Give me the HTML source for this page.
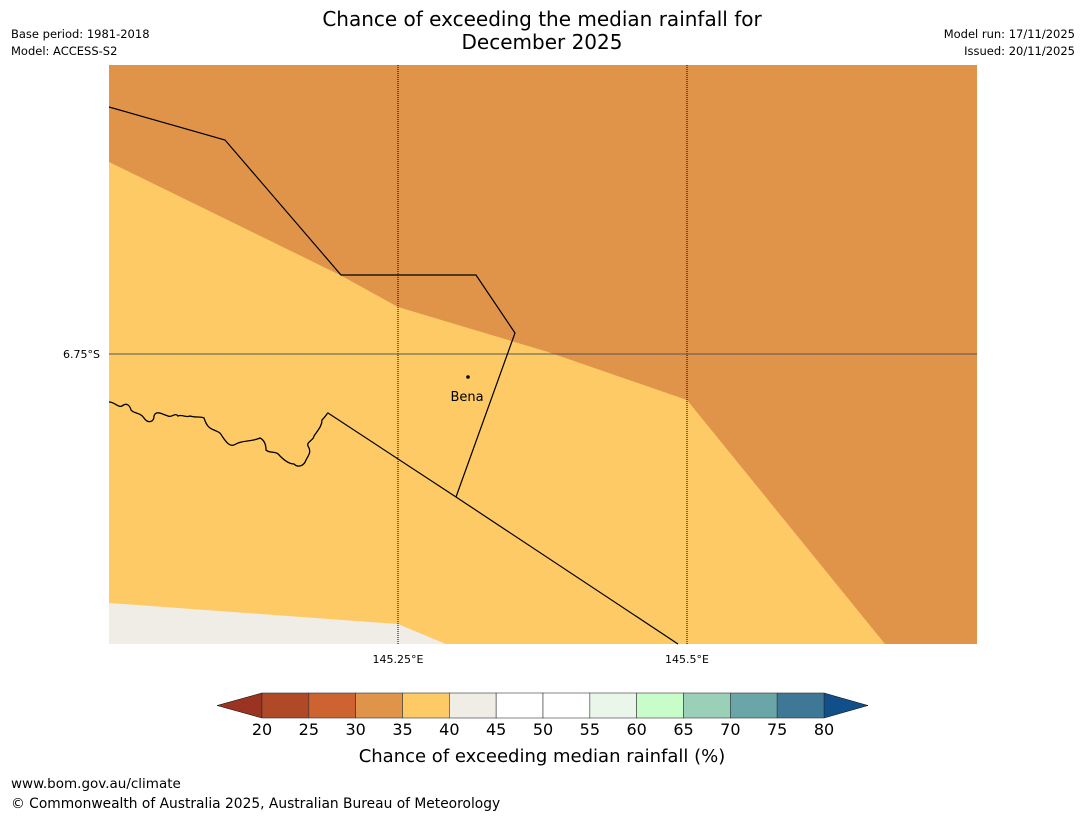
<!DOCTYPE html>
<html><head><meta charset="utf-8"><style>
body{margin:0;background:#fff;font-family:"Liberation Sans","DejaVu Sans",sans-serif}
svg text{font-family:"DejaVu Sans","Liberation Sans",sans-serif}
</style></head><body>
<svg width="1085" height="816" viewBox="0 0 1085 816" xmlns="http://www.w3.org/2000/svg">
<text x="542" y="26" font-size="20" text-anchor="middle">Chance of exceeding the median rainfall for</text>
<text x="542" y="49" font-size="20" text-anchor="middle">December 2025</text>
<text x="11" y="38" font-size="11.5">Base period: 1981-2018</text>
<text x="11" y="55" font-size="11.5">Model: ACCESS-S2</text>
<text x="1075" y="38" font-size="11.5" text-anchor="end">Model run: 17/11/2025</text>
<text x="1075" y="55" font-size="11.5" text-anchor="end">Issued: 20/11/2025</text>
<g>
<rect x="109" y="65" width="868" height="579" fill="#e0944a"/>
<polygon points="109,162 340,275 398,307 548,352 687,400 885,644 109,644" fill="#fdca66"/>
<polygon points="109,603 398,624 446,644 109,644" fill="#f0ece6"/>
<line x1="398" y1="65" x2="398" y2="644" stroke="#000" stroke-width="1" stroke-dasharray="1,1"/>
<line x1="687" y1="65" x2="687" y2="644" stroke="#000" stroke-width="1" stroke-dasharray="1,1"/>
<line x1="109" y1="354" x2="977" y2="354" stroke="#555" stroke-width="1"/>
<polyline points="109,107 225,140 341,275 476,275 515,333 456,497" fill="none" stroke="#000" stroke-width="1.2"/>
<polyline points="328,413 456,497 678,644" fill="none" stroke="#000" stroke-width="1.2"/>
<path d="M109,402 C115,402 118,408 122,406 C127,402 130,406 131,410 C134,414 140,412 144,418 C148,424 154,422 154,416 C156,410 162,414 168,416 C172,418 175,412 178,416 C182,414 186,418 190,416 C196,418 200,416 204,418 C206,424 208,428 214,430 C218,432 220,432 222,436 C226,442 230,448 236,444 C242,440 252,442 260,438 C264,440 266,444 266,450 C270,454 276,450 280,456 C286,462 290,464 294,464 C298,468 304,466 306,460 C308,456 312,452 308,446 C306,442 314,440 314,436 C318,430 322,426 322,420 C326,416 328,412 328,413" fill="none" stroke="#000" stroke-width="1.3"/>
<circle cx="468" cy="377" r="1.8" fill="#000"/>
<text x="467" y="401" font-size="13" text-anchor="middle">Bena</text>
</g>
<text x="100" y="358" font-size="11" text-anchor="end">6.75°S</text>
<text x="398" y="663" font-size="11" text-anchor="middle">145.25°E</text>
<text x="687" y="663" font-size="11" text-anchor="middle">145.5°E</text>
<g id="cbar"></g>
<text x="542" y="762" font-size="18" text-anchor="middle">Chance of exceeding median rainfall (%)</text>
<text x="11" y="788" font-size="13.5">www.bom.gov.au/climate</text>
<text x="11" y="808" font-size="13.8">© Commonwealth of Australia 2025, Australian Bureau of Meteorology</text>
</svg>
<script>
const ticks=[20,25,30,35,40,45,50,55,60,65,70,75,80];
const colors=["#b04a26","#cc6331","#e0944a","#fdca66","#f0ece6","#ffffff","#ffffff","#eaf6ea","#c8fcc8","#9bd0b8","#6aa5a8","#3f7896"];
const lowColor="#9a3322", highColor="#114f8a";
const NS="http://www.w3.org/2000/svg";
const g=document.getElementById('cbar');
const x0=262,x1=824,y0=693,y1=718;
const sx=v=>x0+(v-ticks[0])/(ticks[ticks.length-1]-ticks[0])*(x1-x0);
function mk(t,a){const e=document.createElementNS(NS,t);for(const k in a)e.setAttribute(k,a[k]);g.appendChild(e);return e;}
let tri=mk('polygon',{points:`${x0},${y0} ${x0},${y1} 217,${(y0+y1)/2}`,fill:lowColor,stroke:'#000','stroke-width':0.5});


tri=mk('polygon',{points:`${x1},${y0} ${x1},${y1} 868,${(y0+y1)/2}`,fill:highColor,stroke:'#000','stroke-width':0.5});


colors.forEach((c,i)=>{
 const r=mk('rect',{x:sx(ticks[i]),y:y0,width:sx(ticks[i+1])-sx(ticks[i]),height:y1-y0,fill:c,stroke:'#333','stroke-width':0.6});
 
 
});
ticks.forEach(v=>{
 const t=mk('text',{x:sx(v),y:735,'font-size':16,'text-anchor':'middle'});
 t.textContent=v;
 
 
});
</script>
</body></html>
